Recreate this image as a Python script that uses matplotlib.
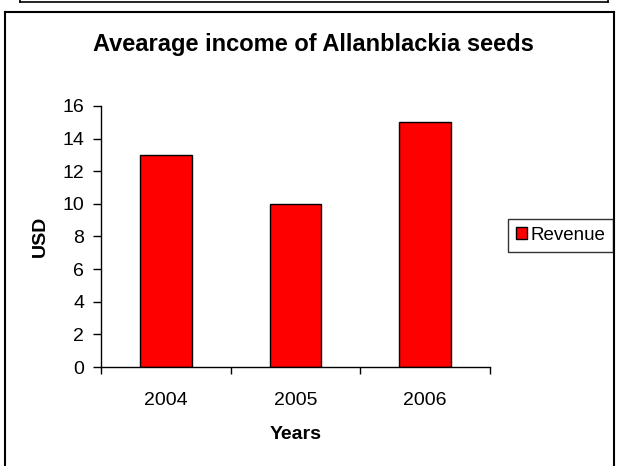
import matplotlib
matplotlib.use("Agg")
import matplotlib.pyplot as plt
from matplotlib.lines import Line2D

plt.rcParams['font.family'] = ['Liberation Sans', 'DejaVu Sans']

years = ['2004', '2005', '2006']
revenue = [13, 10, 15]
yticks = [0, 2, 4, 6, 8, 10, 12, 14, 16]

W, H = 619, 466
fig = plt.figure(figsize=(W / 100, H / 100), dpi=100)

# pixel -> figure fraction
def fx(x):
    return x / W

def fy(y):
    return 1 - y / H

# outer frames (top box is cut off, main chart box)
fig.add_artist(Line2D([fx(20), fx(608)], [fy(2), fy(2)], color='black', lw=1.2))
fig.add_artist(Line2D([fx(20), fx(20)], [fy(2), 1.0], color='black', lw=1.2))
fig.add_artist(Line2D([fx(608), fx(608)], [fy(2), 1.0], color='black', lw=1.2))
fig.add_artist(Line2D([fx(5), fx(614)], [fy(12), fy(12)], color='black', lw=1.5))
fig.add_artist(Line2D([fx(5), fx(5)], [fy(12), 0.0], color='black', lw=1.5))
fig.add_artist(Line2D([fx(614), fx(614)], [fy(12), 0.0], color='black', lw=1.5))

ax = fig.add_axes([fx(101), fy(367), fx(490) - fx(101), fy(106) - fy(367)])
x = range(len(years))
ax.bar(x, revenue, width=0.4, color='#ff0000', edgecolor='black', linewidth=1, label='Revenue')

ax.set_xlim(-0.5, 2.5)
ax.set_ylim(0, 16)
ax.set_yticks(yticks)
ax.set_yticklabels([str(t) for t in yticks], fontsize=14)
ax.set_xticks([-0.5, 0.5, 1.5, 2.5])
ax.set_xticklabels([])
ax.set_xticks(list(x), minor=True)
ax.set_xticklabels(years, minor=True, fontsize=14)
ax.tick_params(axis='x', which='minor', length=0, pad=18)
ax.tick_params(axis='x', which='major', length=5, width=1)
ax.tick_params(axis='y', length=6, width=1, pad=6)

for s in ['top', 'right']:
    ax.spines[s].set_visible(False)
ax.spines['left'].set_linewidth(1)
ax.spines['bottom'].set_linewidth(1)

ax.set_xlabel('Years', fontsize=14, fontweight='bold', labelpad=12)
fig.text(fx(40), fy(236), 'USD', fontsize=14, fontweight='bold', rotation=90,
         ha='center', va='center')
fig.text(fx(313), fy(45), 'Avearage income of Allanblackia seeds', fontsize=17,
         fontweight='bold', ha='center', va='center')

leg = ax.legend(loc='upper left', bbox_to_anchor=(fx(508), fy(219)), bbox_transform=fig.transFigure,
                fontsize=14, frameon=True, fancybox=False, handlelength=0.6, handleheight=0.6,
                handletextpad=0.15, borderpad=0.4, borderaxespad=0)
leg.get_frame().set_edgecolor('black')
leg.get_frame().set_linewidth(1)
leg._legend_box.sep = 0
for t in leg.get_texts():
    t.set_fontsize(13.5)

fig.savefig('out.png', dpi=100)
